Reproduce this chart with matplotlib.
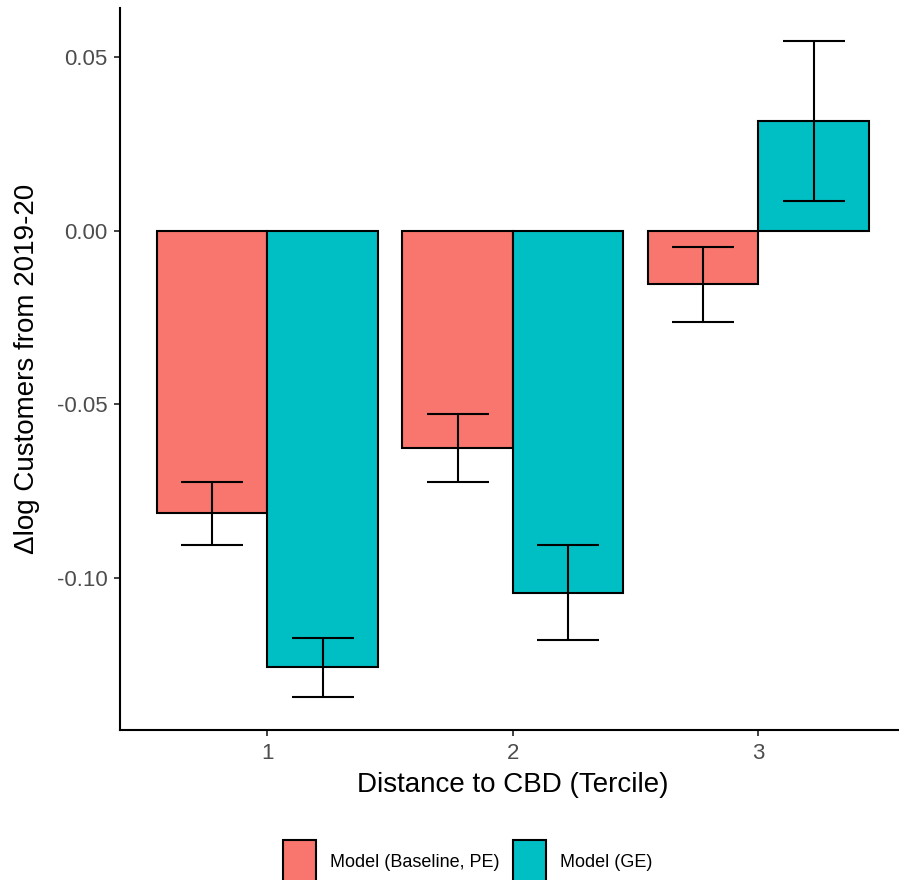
import matplotlib
matplotlib.use("Agg")
import matplotlib.pyplot as plt
import numpy as np

plt.rcParams['font.family'] = ['Liberation Sans', 'DejaVu Sans']

# data
terciles = [1, 2, 3]
series = ["Model (Baseline, PE)", "Model (GE)"]
colors = ["#F8766D", "#00BFC4"]
pe_mean = [-0.0812, -0.0625, -0.0155]
pe_low = [-0.0907, -0.0723, -0.0262]
pe_high = [-0.0723, -0.0527, -0.0046]
ge_mean = [-0.1258, -0.1045, 0.0317]
ge_low = [-0.1344, -0.1180, 0.0086]
ge_high = [-0.1174, -0.0907, 0.0547]

W, H = 899, 880
fig = plt.figure(figsize=(W / 100, H / 100), dpi=100)
ax = fig.add_axes([120 / W, 1 - 730 / H, (905.6 - 120) / W, (730 - 8) / H])

x = np.array(terciles, dtype=float)
width = 0.45
means = [pe_mean, ge_mean]
lows = [pe_low, ge_low]
highs = [pe_high, ge_high]
offsets = [-width / 2, width / 2]

for m, lo, hi, off, c in zip(means, lows, highs, offsets, colors):
    m = np.array(m); lo = np.array(lo); hi = np.array(hi)
    ax.bar(x + off, m, width=width, color=c, edgecolor="black", linewidth=1.5)
    ax.errorbar(x + off, m, yerr=[m - lo, hi - m], fmt="none",
                ecolor="black", elinewidth=1.5, capsize=22, capthick=1.5)

# ggplot-like expansion
allv = np.concatenate([pe_low, pe_high, ge_low, ge_high, [0]])
rng = allv.max() - allv.min()
ax.set_ylim(allv.min() - 0.05 * rng, allv.max() + 0.05 * rng)
ax.set_xlim(0.4, 3.6)

ax.set_xticks(terciles)
ax.set_xticklabels([str(t) for t in terciles])
ax.set_yticks([-0.10, -0.05, 0.00, 0.05])
ax.set_yticklabels(["-0.10", "-0.05", "0.00", "0.05"])

for s in ["top", "right"]:
    ax.spines[s].set_visible(False)
for s in ["left", "bottom"]:
    ax.spines[s].set_linewidth(1.5)
    ax.spines[s].set_color("black")
ax.tick_params(axis="both", length=4.5, width=1.3, color="#333333",
               labelcolor="#4D4D4D", labelsize=16, pad=4.5)

ax.set_xlabel("Distance to CBD (Tercile)", fontsize=20, labelpad=6)
ax.set_ylabel("\u0394log Customers from 2019-20", fontsize=20, labelpad=12)

handles = [plt.Rectangle((0, 0), 1, 1, facecolor=c, edgecolor="black", linewidth=1.5)
           for c in colors]
fig.legend(handles, series, loc="center", bbox_to_anchor=(467.5 / W, 1 - 862 / H),
           ncol=2, frameon=False, fontsize=13, handlelength=1.83, handleheight=3.3,
           handletextpad=0.78, columnspacing=0.72, borderpad=0, borderaxespad=0)

fig.savefig("out.png", dpi=100)
